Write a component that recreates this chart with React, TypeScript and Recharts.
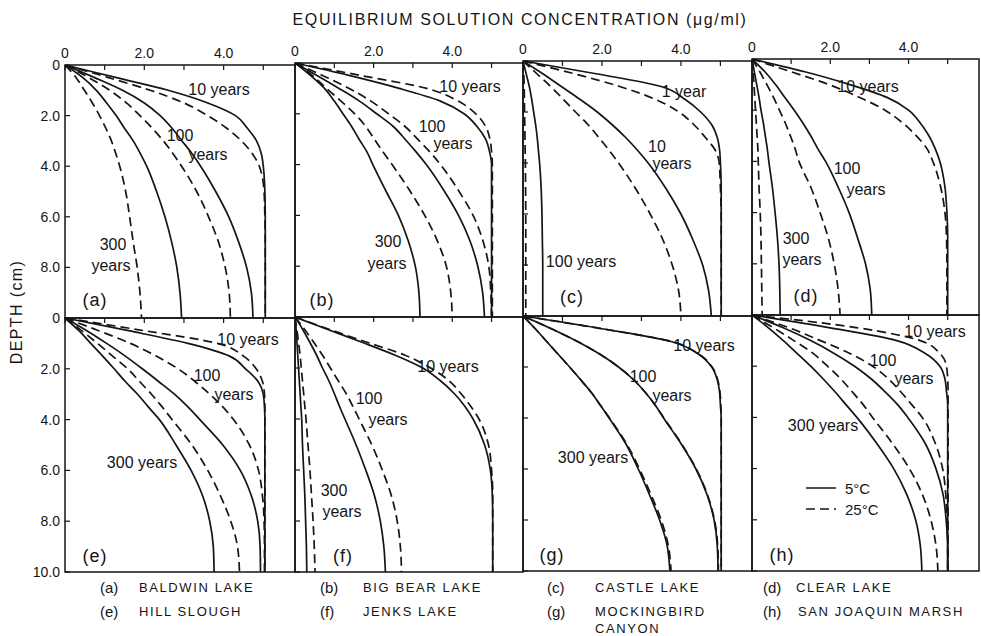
import React from "react";
import { LineChart, Line, XAxis, YAxis, ReferenceArea } from "recharts";

const FONT = "'Liberation Sans', Arial, Helvetica, sans-serif";
const INK = "#151515";

// depth grid (cm) shared by every profile
const DEPTH = [0, 0.5, 1, 1.5, 2, 2.5, 3, 3.5, 4, 5, 6, 7, 8, 9, 10];
const X_TICKS = [0, 1, 2, 3, 4, 5];
const Y_TICKS = [0, 2, 4, 6, 8, 10];
const X_MAX = 5.8;

// (a) Baldwin Lake
const aS10 = [0, 1.3, 2.6, 3.6, 4.3, 4.6, 4.83, 4.95, 5.0, 5.04, 5.05, 5.05, 5.05, 5.05, 5.05];
const aD10 = [0, 1.1, 2.15, 3.0, 3.6, 4.08, 4.45, 4.72, 4.9, 5.02, 5.04, 5.05, 5.05, 5.05, 5.05];
const aS100 = [0, 0.75, 1.45, 2.0, 2.4, 2.7, 2.95, 3.2, 3.42, 3.8, 4.13, 4.38, 4.58, 4.7, 4.74];
const aD100 = [0, 0.6, 1.13, 1.55, 1.89, 2.2, 2.48, 2.72, 2.94, 3.32, 3.62, 3.87, 4.04, 4.14, 4.17];
const aS300 = [0, 0.45, 0.79, 1.05, 1.29, 1.5, 1.72, 1.9, 2.06, 2.31, 2.52, 2.69, 2.82, 2.9, 2.94];
const aD300 = [0, 0.28, 0.49, 0.69, 0.87, 1.03, 1.17, 1.28, 1.38, 1.53, 1.63, 1.72, 1.82, 1.89, 1.93];

// (b) Big Bear Lake
const bS10 = [0, 1.4, 2.65, 3.7, 4.3, 4.63, 4.85, 4.95, 5.0, 5.0, 5.0, 5.0, 5.0, 5.0, 5.0];
const bD10 = [0, 1.7, 3.35, 4.15, 4.6, 4.85, 4.96, 5.0, 5.02, 5.02, 5.02, 5.02, 5.02, 5.02, 5.02];
const bS100 = [0, 0.57, 1.12, 1.64, 2.08, 2.5, 2.8, 3.08, 3.34, 3.78, 4.16, 4.45, 4.65, 4.77, 4.82];
const bD100 = [0, 0.71, 1.38, 1.93, 2.38, 2.8, 3.12, 3.43, 3.7, 4.15, 4.53, 4.78, 4.93, 4.98, 5.0];
const bS300 = [0, 0.4, 0.75, 1.0, 1.22, 1.44, 1.63, 1.83, 1.98, 2.3, 2.63, 2.88, 3.06, 3.15, 3.18];
const bD300 = [0, 0.45, 0.8, 1.17, 1.52, 1.8, 2.02, 2.24, 2.47, 2.91, 3.3, 3.62, 3.85, 3.96, 4.0];

// (c) Castle Lake (1, 10, 100 years)
const cS1 = [0, 1.85, 3.5, 4.1, 4.5, 4.78, 4.92, 4.98, 5.0, 5.02, 5.02, 5.02, 5.02, 5.02, 5.02];
const cD1 = [0, 1.3, 2.45, 3.35, 3.95, 4.33, 4.62, 4.87, 4.97, 5.0, 5.02, 5.02, 5.02, 5.02, 5.02];
const cS10 = [0, 0.5, 0.97, 1.44, 1.88, 2.26, 2.6, 2.9, 3.17, 3.62, 4.0, 4.3, 4.55, 4.7, 4.77];
const cD10 = [0, 0.35, 0.7, 1.02, 1.33, 1.65, 1.92, 2.18, 2.42, 2.85, 3.22, 3.54, 3.78, 3.94, 4.0];
const cS100 = [0, 0.08, 0.16, 0.22, 0.27, 0.32, 0.36, 0.39, 0.42, 0.46, 0.48, 0.49, 0.5, 0.5, 0.5];
const cD100 = [0, 0.02, 0.03, 0.035, 0.04, 0.045, 0.05, 0.055, 0.06, 0.065, 0.07, 0.07, 0.07, 0.07, 0.07];

// (d) Clear Lake
const dS10 = [0, 1.35, 2.5, 3.45, 4.0, 4.3, 4.52, 4.68, 4.8, 4.93, 4.98, 5.0, 5.0, 5.0, 5.0];
const dD10 = [0, 1.0, 1.97, 2.75, 3.4, 3.85, 4.2, 4.47, 4.62, 4.82, 4.93, 4.97, 4.98, 4.98, 4.98];
const dS100 = [0, 0.33, 0.6, 0.84, 1.08, 1.3, 1.5, 1.68, 1.88, 2.2, 2.48, 2.7, 2.9, 3.02, 3.06];
const dD100 = [0, 0.2, 0.38, 0.55, 0.7, 0.85, 0.98, 1.1, 1.2, 1.5, 1.74, 1.95, 2.1, 2.2, 2.25];
const dS300 = [0, 0.06, 0.12, 0.18, 0.23, 0.29, 0.34, 0.39, 0.43, 0.52, 0.59, 0.65, 0.69, 0.71, 0.72];
const dD300 = [0, 0.03, 0.05, 0.07, 0.09, 0.11, 0.13, 0.15, 0.16, 0.18, 0.21, 0.23, 0.24, 0.25, 0.26];

// (e) Hill Slough
const eS10 = [0, 1.6, 3.1, 4.15, 4.55, 4.87, 5.0, 5.03, 5.04, 5.04, 5.04, 5.04, 5.04, 5.04, 5.04];
const eD10 = [0, 2.0, 3.85, 4.5, 4.82, 4.98, 5.03, 5.04, 5.04, 5.04, 5.04, 5.04, 5.04, 5.04, 5.04];
const eS100 = [0, 0.55, 1.05, 1.52, 1.95, 2.36, 2.76, 3.1, 3.4, 3.98, 4.42, 4.7, 4.86, 4.92, 4.93];
const eD100 = [0, 0.85, 1.65, 2.3, 2.85, 3.28, 3.65, 3.98, 4.25, 4.65, 4.88, 4.98, 5.02, 5.03, 5.03];
const eS300 = [0, 0.35, 0.65, 0.95, 1.24, 1.52, 1.83, 2.1, 2.38, 2.8, 3.18, 3.47, 3.65, 3.74, 3.76];
const eD300 = [0, 0.42, 0.82, 1.2, 1.58, 1.88, 2.18, 2.45, 2.7, 3.2, 3.6, 3.92, 4.18, 4.35, 4.4];

// (f) Jenks Lake
const fS10 = [0, 0.85, 1.72, 2.55, 3.25, 3.7, 4.05, 4.32, 4.53, 4.82, 4.97, 5.02, 5.03, 5.03, 5.03];
const fD10 = [0, 0.9, 1.85, 2.8, 3.45, 3.92, 4.22, 4.47, 4.68, 4.92, 5.0, 5.03, 5.03, 5.03, 5.03];
const fS100 = [0, 0.2, 0.38, 0.55, 0.7, 0.86, 1.0, 1.13, 1.27, 1.55, 1.8, 2.02, 2.17, 2.26, 2.3];
const fD100 = [0, 0.25, 0.48, 0.7, 0.9, 1.1, 1.3, 1.47, 1.63, 1.95, 2.22, 2.45, 2.6, 2.68, 2.71];
const fS300 = [0, 0.03, 0.05, 0.07, 0.09, 0.11, 0.13, 0.15, 0.17, 0.19, 0.22, 0.25, 0.27, 0.29, 0.3];
const fD300 = [0, 0.05, 0.09, 0.13, 0.16, 0.19, 0.22, 0.25, 0.28, 0.33, 0.38, 0.42, 0.46, 0.49, 0.51];

// (g) Mockingbird Canyon (the two temperatures nearly coincide)
const gS10 = [0, 2.0, 3.75, 4.45, 4.78, 4.92, 4.98, 5.0, 5.02, 5.02, 5.02, 5.02, 5.02, 5.02, 5.02];
const gD10 = [0, 2.0, 3.76, 4.46, 4.79, 4.93, 4.99, 5.01, 5.02, 5.02, 5.02, 5.02, 5.02, 5.02, 5.02];
const gS100 = [0, 0.72, 1.38, 1.95, 2.42, 2.8, 3.1, 3.35, 3.56, 4.0, 4.38, 4.66, 4.84, 4.92, 4.94];
const gD100 = [0, 0.72, 1.38, 1.95, 2.42, 2.8, 3.1, 3.35, 3.57, 4.01, 4.39, 4.67, 4.85, 4.93, 4.95];
const gS300 = [0, 0.31, 0.6, 0.89, 1.18, 1.46, 1.73, 1.96, 2.18, 2.6, 2.92, 3.2, 3.46, 3.65, 3.72];
const gD300 = [0, 0.31, 0.6, 0.89, 1.18, 1.46, 1.73, 1.96, 2.19, 2.62, 2.95, 3.24, 3.5, 3.68, 3.75];

// (h) San Joaquin Marsh
const hS10 = [0, 2.0, 3.7, 4.43, 4.8, 4.93, 4.97, 5.0, 5.0, 5.0, 5.0, 5.0, 5.0, 5.0, 5.0];
const hD10 = [0, 2.7, 4.3, 4.8, 4.97, 5.0, 5.01, 5.01, 5.01, 5.01, 5.01, 5.01, 5.01, 5.01, 5.01];
const hS100 = [0, 0.8, 1.5, 2.1, 2.62, 3.05, 3.4, 3.72, 3.98, 4.42, 4.7, 4.88, 4.96, 5.0, 5.0];
const hD100 = [0, 0.95, 1.75, 2.5, 3.08, 3.49, 3.8, 4.08, 4.35, 4.68, 4.87, 4.95, 4.98, 5.0, 5.0];
const hS300 = [0, 0.42, 0.8, 1.15, 1.5, 1.82, 2.12, 2.4, 2.68, 3.18, 3.62, 3.95, 4.18, 4.3, 4.34];
const hD300 = [0, 0.55, 1.07, 1.56, 1.93, 2.27, 2.56, 2.84, 3.08, 3.58, 4.02, 4.35, 4.57, 4.7, 4.75];

const PANEL_CURVES = [
  [aS10, aD10, aS100, aD100, aS300, aD300],
  [bS10, bD10, bS100, bD100, bS300, bD300],
  [cS1, cD1, cS10, cD10, cS100, cD100],
  [dS10, dD10, dS100, dD100, dS300, dD300],
  [eS10, eD10, eS100, eD100, eS300, eD300],
  [fS10, fD10, fS100, fD100, fS300, fD300],
  [gS10, gD10, gS100, gD100, gS300, gD300],
  [hS10, hD10, hS100, hD100, hS300, hD300],
];

// plot rectangles (the scanned figure is slightly skewed)
const PANELS = [
  { x: 65, y: 65, w: 230, h: 253, tag: "(a)", tagX: 95, tagY: 300 },
  { x: 295, y: 63, w: 228, h: 254, tag: "(b)", tagX: 322, tagY: 300 },
  { x: 523, y: 61, w: 229, h: 255, tag: "(c)", tagX: 572, tagY: 297 },
  { x: 752, y: 59, w: 227, h: 256, tag: "(d)", tagX: 806, tagY: 296 },
  { x: 65, y: 318, w: 230, h: 254, tag: "(e)", tagX: 95, tagY: 556 },
  { x: 295, y: 317, w: 228, h: 255, tag: "(f)", tagX: 343, tagY: 556 },
  { x: 523, y: 316, w: 229, h: 255, tag: "(g)", tagX: 552, tagY: 555 },
  { x: 752, y: 315, w: 227, h: 256, tag: "(h)", tagX: 782, tagY: 555 },
];

const CURVE_LABELS: [string, number, number][] = [
  ["10 years", 219, 90], ["100", 180, 136], ["years", 208, 155], ["300", 113, 245], ["years", 111, 266],
  ["10 years", 470, 87], ["100", 432, 127], ["years", 453, 144], ["300", 388, 242], ["years", 387, 264],
  ["1 year", 684, 92], ["10", 657, 147], ["years", 672, 164], ["100 years", 581, 262],
  ["10 years", 868, 87], ["100", 847, 169], ["years", 866, 190], ["300", 796, 239], ["years", 802, 260],
  ["10 years", 248, 340], ["100", 207, 376], ["years", 234, 395], ["300 years", 142, 463],
  ["10 years", 448, 367], ["100", 369, 399], ["years", 388, 420], ["300", 334, 491], ["years", 342, 512],
  ["10 years", 704, 346], ["100", 643, 377], ["years", 672, 396], ["300 years", 593, 458],
  ["10 years", 935, 332], ["100", 883, 361], ["years", 914, 379], ["300 years", 823, 426],
];

const SITE_KEYS: [string, number, number][] = [
  ["(a)", 100, 587], ["(b)", 320, 587], ["(c)", 547, 587], ["(d)", 763, 587],
  ["(e)", 100, 611], ["(f)", 320, 611], ["(g)", 547, 611], ["(h)", 763, 611],
];
const SITE_NAMES: [string, number, number][] = [
  ["BALDWIN LAKE", 139, 587], ["BIG BEAR LAKE", 363, 587], ["CASTLE LAKE", 595, 587], ["CLEAR LAKE", 796, 587],
  ["HILL SLOUGH", 139, 611], ["JENKS LAKE", 363, 611], ["MOCKINGBIRD", 595, 611], ["SAN JOAQUIN MARSH", 798, 611],
  ["CANYON", 595, 628],
];

const AXW = 46;
const AXH = 30;
const PAD_B = 12;

const toPoints = (values: number[]) => DEPTH.map((d, i) => ({ d, c: values[i] }));

function Panel({ idx }: { idx: number }) {
  const p = PANELS[idx];
  const col = idx % 4;
  const row = Math.floor(idx / 4);
  const curves = PANEL_CURVES[idx];
  const xFmt = (v: number) => {
    if (row !== 0) return "";
    if (v === 0) return "0";
    return v % 2 === 0 ? v.toFixed(1) : "";
  };
  const yFmt = (v: number) => {
    if (col !== 0) return "";
    if (v === 0) return "0";
    if (v === 10 && row === 0) return "";
    return v.toFixed(1);
  };
  const tickStyle = { fill: INK, fontSize: 14, fontFamily: FONT };
  return (
    <div style={{ position: "absolute", left: p.x - AXW, top: p.y - AXH }}>
      <LineChart
        layout="vertical"
        width={p.w + AXW + 2}
        height={p.h + AXH + PAD_B}
        margin={{ top: 0, right: 2, bottom: PAD_B, left: 0 }}
      >
        <XAxis
          type="number"
          orientation="top"
          domain={[0, X_MAX]}
          ticks={X_TICKS}
          interval={0}
          height={AXH}
          allowDataOverflow
          axisLine={false}
          tickLine={{ stroke: INK, strokeWidth: 1.2 }}
          tickSize={-5}
          tickMargin={12}
          tick={tickStyle}
          tickFormatter={xFmt}
        />
        <YAxis
          type="number"
          dataKey="d"
          domain={[0, 10]}
          ticks={Y_TICKS}
          interval={0}
          width={AXW}
          allowDataOverflow
          axisLine={false}
          tickLine={{ stroke: INK, strokeWidth: 1.2 }}
          tickSize={-5}
          tickMargin={10}
          tick={tickStyle}
          tickFormatter={yFmt}
        />
        <ReferenceArea
          x1={0}
          x2={X_MAX}
          y1={0}
          y2={10}
          fill="none"
          fillOpacity={0}
          stroke={INK}
          strokeWidth={1.5}
          ifOverflow="visible"
        />
        {curves.map((vals, i) => (
          <Line
            key={i}
            data={toPoints(vals)}
            dataKey="c"
            type="monotone"
            stroke={INK}
            strokeWidth={1.7}
            strokeDasharray={i % 2 === 1 ? "9 5" : undefined}
            dot={false}
            activeDot={false}
            isAnimationActive={false}
          />
        ))}
      </LineChart>
    </div>
  );
}

const textBase: React.CSSProperties = {
  position: "absolute",
  whiteSpace: "nowrap",
  fontFamily: FONT,
  color: INK,
  lineHeight: 1,
};

export default function App() {
  return (
    <div
      style={{
        position: "absolute",
        left: 0,
        top: 0,
        width: 981,
        height: 636,
        background: "#fff",
        overflow: "hidden",
      }}
    >
      <div
        style={{
          ...textBase,
          left: 520,
          top: 20,
          fontSize: 16,
          letterSpacing: 1.6,
          transform: "translate(-50%, -50%)",
        }}
      >
        EQUILIBRIUM SOLUTION CONCENTRATION (μg/ml)
      </div>
      <div
        style={{
          ...textBase,
          left: 17,
          top: 312,
          fontSize: 16,
          letterSpacing: 1.4,
          transform: "translate(-50%, -50%) rotate(-90deg)",
        }}
      >
        DEPTH (cm)
      </div>

      {PANELS.map((_, i) => (
        <Panel key={i} idx={i} />
      ))}

      {PANELS.map((p) => (
        <div
          key={p.tag}
          style={{
            ...textBase,
            left: p.tagX,
            top: p.tagY,
            fontSize: 18,
            letterSpacing: 1,
            transform: "translate(-50%, -50%)",
          }}
        >
          {p.tag}
        </div>
      ))}

      {CURVE_LABELS.map(([t, x, y], i) => (
        <div
          key={i}
          style={{
            ...textBase,
            left: x,
            top: y,
            fontSize: 16,
            transform: "translate(-50%, -50%)",
          }}
        >
          {t}
        </div>
      ))}

      {/* temperature key inside panel (h) */}
      <svg
        style={{ position: "absolute", left: 800, top: 478 }}
        width={40}
        height={40}
      >
        <line x1={6} y1={10} x2={36} y2={10} stroke={INK} strokeWidth={1.5} />
        <line x1={6} y1={31} x2={36} y2={31} stroke={INK} strokeWidth={1.5} strokeDasharray="9 5" />
      </svg>
      <div style={{ ...textBase, left: 845, top: 488, fontSize: 15, transform: "translateY(-50%)" }}>
        5°C
      </div>
      <div style={{ ...textBase, left: 845, top: 509, fontSize: 15, transform: "translateY(-50%)" }}>
        25°C
      </div>

      {SITE_KEYS.map(([t, x, y]) => (
        <div
          key={t}
          style={{ ...textBase, left: x, top: y, fontSize: 15, transform: "translateY(-50%)" }}
        >
          {t}
        </div>
      ))}
      {SITE_NAMES.map(([t, x, y]) => (
        <div
          key={t}
          style={{
            ...textBase,
            left: x,
            top: y,
            fontSize: 13,
            letterSpacing: 1.6,
            transform: "translateY(-50%)",
          }}
        >
          {t}
        </div>
      ))}
    </div>
  );
}
